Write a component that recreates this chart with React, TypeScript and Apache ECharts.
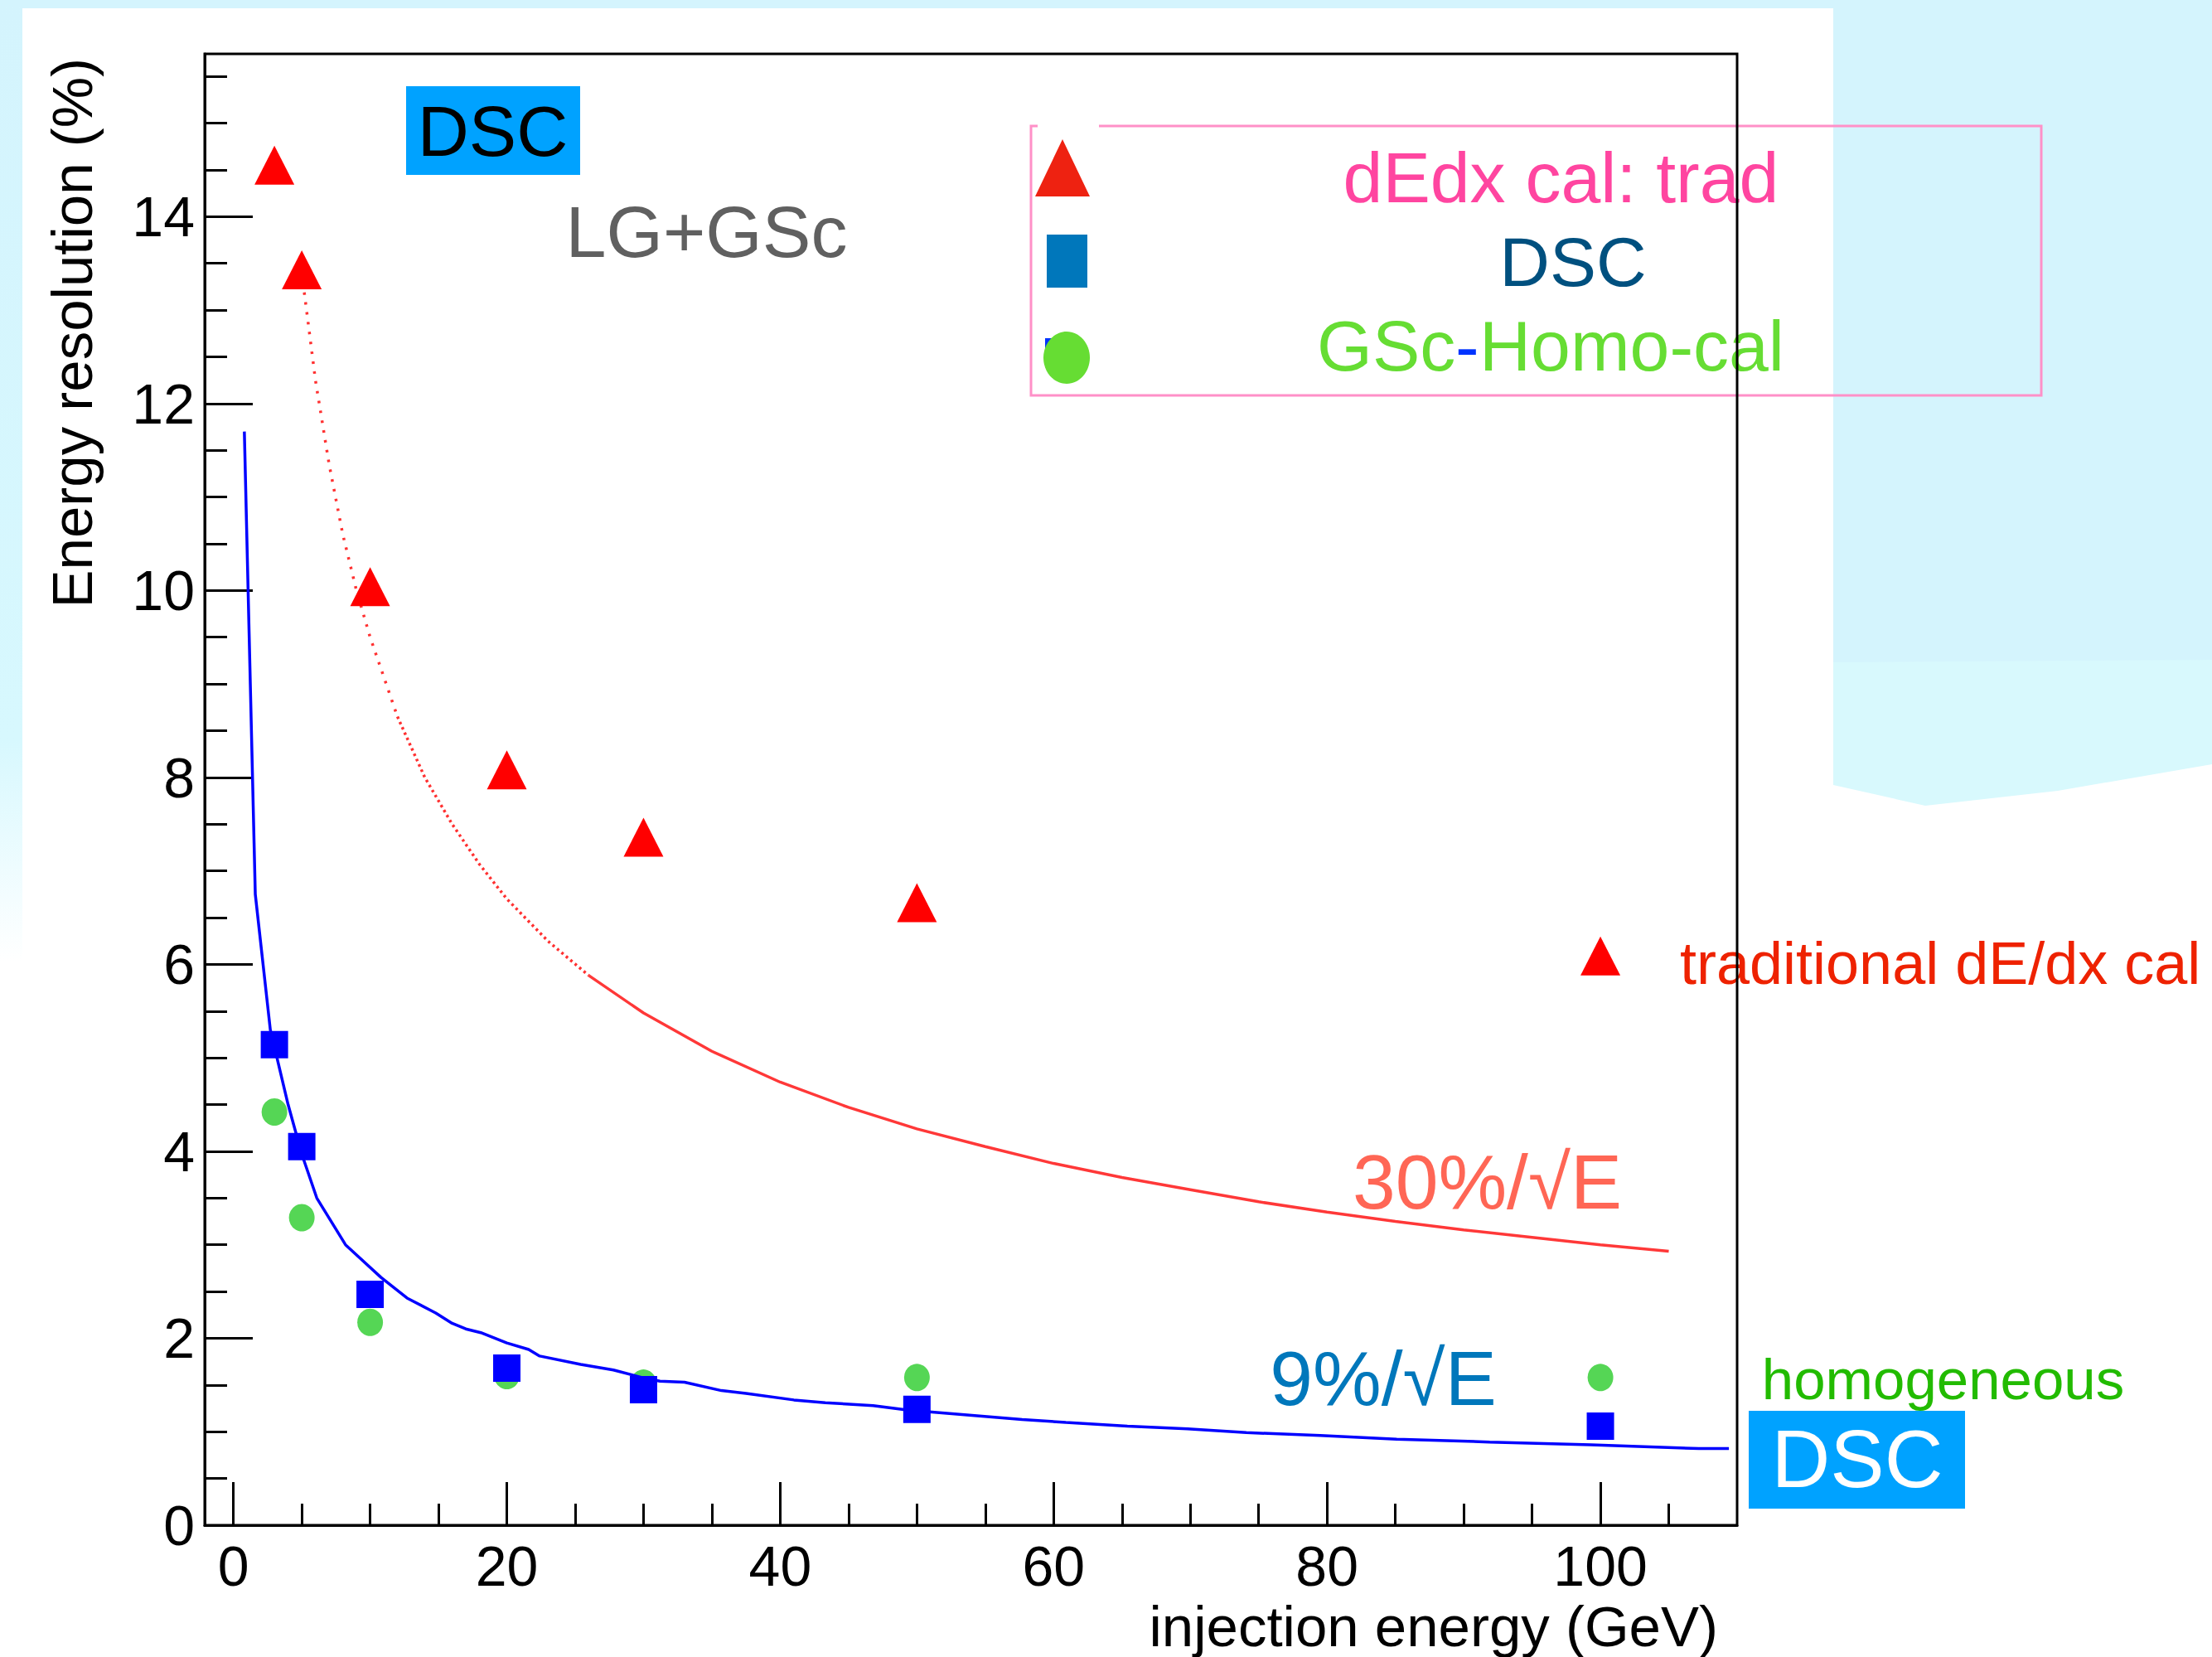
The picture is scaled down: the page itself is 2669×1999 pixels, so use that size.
import React, { useEffect, useRef } from "react";
import * as echarts from "echarts";

// ---------- data ----------
const triE = [3, 5, 10, 20, 30, 50, 100];
const triRes = [14.55, 13.43, 10.04, 8.08, 7.36, 6.66, 6.09];

const sqE = [3, 5, 10, 20, 30, 50, 100];
const sqRes = [5.14, 4.05, 2.47, 1.68, 1.45, 1.24, 1.06];

const cirE = [3, 5, 10, 20, 30, 50, 100];
const cirRes = [4.42, 3.29, 2.17, 1.6, 1.52, 1.58, 1.58];

// 9%/sqrt(E) curve (blue)
const fit9E = [0.8, 1.6, 2.7, 4.0, 5.0, 6.1, 8.2, 10.8, 12.7, 14.8, 16.0, 17.0, 18.1, 20.0, 21.6, 22.4, 25.4, 27.8, 29.9, 31.2, 33.0, 35.7, 37.5, 41.0, 43.3, 46.8, 49.4, 51.1, 54.4, 57.7, 60.9, 65.4, 69.8, 74.1, 79.5, 85.1, 91.9, 99.3, 107.2, 109.4];
const fit9Res = [11.7, 6.75, 5.3, 4.5, 3.97, 3.5, 3.0, 2.65, 2.43, 2.27, 2.16, 2.1, 2.06, 1.95, 1.88, 1.81, 1.72, 1.66, 1.58, 1.54, 1.53, 1.44, 1.41, 1.34, 1.31, 1.28, 1.23, 1.21, 1.17, 1.13, 1.1, 1.06, 1.03, 0.99, 0.96, 0.92, 0.89, 0.86, 0.82, 0.82];

// 30%/sqrt(E) curve (red)
const fit30E = [5, 6, 7, 8, 9, 10, 12, 14, 16, 18, 20, 23, 26, 30, 35, 40, 45, 50, 55, 60, 65, 70, 75, 80, 85, 90, 95, 100, 105];
const fit30Res = [13.4, 12.25, 11.35, 10.6, 10.0, 9.5, 8.65, 8.0, 7.5, 7.07, 6.7, 6.25, 5.88, 5.48, 5.07, 4.74, 4.47, 4.24, 4.05, 3.87, 3.72, 3.59, 3.46, 3.35, 3.25, 3.16, 3.08, 3.0, 2.93];

const xMajorTicks = [0, 20, 40, 60, 80, 100];
const xMinorTicks = [5, 10, 15, 25, 30, 35, 45, 50, 55, 65, 70, 75, 85, 90, 95, 105];
const yMajorTicks = [0, 2, 4, 6, 8, 10, 12, 14];
const yMinorTicks = [0.5, 1, 1.5, 2.5, 3, 3.5, 4.5, 5, 5.5, 6.5, 7, 7.5, 8.5, 9, 9.5, 10.5, 11, 11.5, 12.5, 13, 13.5, 14.5, 15, 15.5];

const X_MIN = -2.1;
const X_MAX = 110;
const Y_MIN = 0;
const Y_MAX = 15.74;

const FONT = "Liberation Sans";

function pairs(xs: number[], ys: number[]) {
  return xs.map((x, i) => [x, ys[i]]);
}

function txt(text: string, x: number, y: number, size: number, fill: string, align = "center", extra: any = {}) {
  return {
    type: "text",
    x,
    y,
    z: 1,
    silent: true,
    ...extra,
    style: {
      text,
      fill,
      fontSize: size,
      fontFamily: FONT,
      textAlign: align,
      textVerticalAlign: "middle",
      align,
      verticalAlign: "middle",
    },
  };
}

export default function App() {
  const ref = useRef<HTMLDivElement>(null);

  useEffect(() => {
    if (!ref.current) return;
    const chart = echarts.init(ref.current, null, { renderer: "svg" });

    const axisCommonX = {
      type: "value",
      min: X_MIN,
      max: X_MAX,
      position: "bottom",
      gridIndex: 0,
      splitLine: { show: false },
      minorTick: { show: false },
    };
    const axisCommonY = {
      type: "value",
      min: Y_MIN,
      max: Y_MAX,
      position: "left",
      gridIndex: 0,
      splitLine: { show: false },
      minorTick: { show: false },
    };

    const graphics: any[] = [
      // slide background pieces
      { type: "rect", z: 0, silent: true, shape: { x: 0, y: 0, width: 2669, height: 10 }, style: { fill: "#d4f4fd" } },
      {
        type: "rect", z: 0, silent: true,
        shape: { x: 0, y: 0, width: 27, height: 1160 },
        style: {
          fill: new echarts.graphic.LinearGradient(0, 0, 0, 1, [
            { offset: 0, color: "#d4f4fd" },
            { offset: 0.77, color: "#d7f8fe" },
            { offset: 1, color: "#ffffff" },
          ]),
        },
      },
      { type: "rect", z: 0, silent: true, shape: { x: 2212, y: 0, width: 457, height: 800 }, style: { fill: "#d4f4fd" } },
      {
        type: "polygon", z: 0, silent: true,
        shape: { points: [[2212, 799], [2669, 796], [2669, 922], [2483, 954], [2323, 972], [2212, 947]] },
        style: { fill: "#d8f9fd" },
      },

      // top-left labels
      { type: "rect", z: 1, silent: true, shape: { x: 490, y: 104, width: 210, height: 107 }, style: { fill: "#00a2ff" } },
      txt("DSC", 594.5, 158, 86, "#000000"),
      txt("LG+GSc", 852.5, 279, 88, "#606060"),

      // legend box
      {
        type: "polyline", z: 1, silent: true,
        shape: { points: [[1326, 152], [2463, 152], [2463, 477], [1244, 477], [1244, 152], [1252, 152]] },
        style: { stroke: "#ff90c8", lineWidth: 3, fill: null },
      },
      {
        type: "polygon", z: 1, silent: true,
        shape: { points: [[1249, 237], [1282, 168], [1315, 237]] },
        style: { fill: "#ee2211" },
      },
      { type: "rect", z: 1, silent: true, shape: { x: 1263, y: 283, width: 49, height: 64 }, style: { fill: "#0077bb" } },
      { type: "rect", z: 1, silent: true, shape: { x: 1261, y: 408, width: 9, height: 12 }, style: { fill: "#0033ff" } },
      { type: "ellipse", z: 1, silent: true, shape: { cx: 1287, cy: 431.5, rx: 28, ry: 31.5 }, style: { fill: "#66dd33" } },
      txt("dEdx cal: trad", 1883.5, 214, 86, "#ff45a0"),
      txt("DSC", 1898, 316, 84, "#00507f"),
      txt("GSc", 1589, 416.5, 86, "#66dd33", "left"),
      txt("-", 1756, 416.5, 86, "#0033ff", "left"),
      txt("Homo-cal", 1785, 416.5, 86, "#66dd33", "left"),

      // annotations
      txt("traditional dE/dx cal", 2027, 1162, 72, "#ee2200", "left"),
      txt("30%/\u221AE", 1794.5, 1426, 93, "#ff6655"),
      txt("9%/\u221AE", 1669, 1663, 93, "#0077bb"),
      txt("homogeneous", 2344.5, 1664, 69, "#22bb00"),
      { type: "rect", z: 1, silent: true, shape: { x: 2110, y: 1702, width: 261, height: 118 }, style: { fill: "#00a2ff" } },
      txt("DSC", 2241, 1760, 98, "#ffffff"),

      // axis titles
      txt("Energy resolution (%)", 87, 70, 69, "#000000", "right", { rotation: Math.PI / 2 }),
      txt("injection energy (GeV)", 2073, 1962, 69, "#000000", "right"),
    ];

    const option: any = {
      animation: false,
      backgroundColor: "#ffffff",
      textStyle: { fontFamily: FONT },
      grid: {
        show: true,
        left: 247,
        top: 65,
        width: 1849,
        height: 1775,
        borderColor: "#000000",
        borderWidth: 3,
        backgroundColor: "transparent",
        z: 10,
      },
      xAxis: [
        {
          ...axisCommonX,
          axisLine: { show: true, onZero: false, lineStyle: { color: "#000", width: 3 } },
          axisTick: { show: true, inside: true, length: 52, lineStyle: { color: "#000", width: 3 }, customValues: xMajorTicks },
          axisLabel: { show: true, customValues: xMajorTicks, fontSize: 68, color: "#000", margin: 15, fontFamily: FONT },
        },
        {
          ...axisCommonX,
          axisLine: { show: false, onZero: false },
          axisTick: { show: true, inside: true, length: 26, lineStyle: { color: "#000", width: 3 }, customValues: xMinorTicks },
          axisLabel: { show: false },
        },
      ],
      yAxis: [
        {
          ...axisCommonY,
          axisLine: { show: true, onZero: false, lineStyle: { color: "#000", width: 3 } },
          axisTick: { show: true, inside: true, length: 58, lineStyle: { color: "#000", width: 3 }, customValues: yMajorTicks },
          axisLabel: { show: true, customValues: yMajorTicks, fontSize: 68, color: "#000", margin: 12, fontFamily: FONT },
        },
        {
          ...axisCommonY,
          axisLine: { show: false, onZero: false },
          axisTick: { show: true, inside: true, length: 27, lineStyle: { color: "#000", width: 3 }, customValues: yMinorTicks },
          axisLabel: { show: false },
        },
      ],
      graphic: { elements: graphics },
      series: [
        {
          type: "line",
          name: "30%/sqrtE (steep)",
          data: pairs(fit30E, fit30Res).filter((p) => p[0] <= 12),
          showSymbol: false,
          symbol: "none",
          lineStyle: { color: "#ff3030", width: 3.5, type: [3, 9], cap: "butt", opacity: 1 },
          z: 2,
        },
        {
          type: "line",
          name: "30%/sqrtE (mid)",
          data: pairs(fit30E, fit30Res).filter((p) => p[0] >= 12 && p[0] <= 26),
          showSymbol: false,
          symbol: "none",
          lineStyle: { color: "#ff3030", width: 3.5, type: [3, 4], cap: "butt", opacity: 1 },
          z: 2,
        },
        {
          type: "line",
          name: "30%/sqrtE",
          data: pairs(fit30E, fit30Res).filter((p) => p[0] >= 26),
          showSymbol: false,
          symbol: "none",
          lineStyle: { color: "#ff3838", width: 3.5, opacity: 1 },
          z: 2,
        },
        {
          type: "scatter",
          name: "GSc-Homo-cal",
          data: pairs(cirE, cirRes),
          symbol: "circle",
          symbolSize: [31, 33],
          itemStyle: { color: "#55d655", opacity: 1 },
          z: 2,
        },
        {
          type: "line",
          name: "9%/sqrtE",
          data: pairs(fit9E, fit9Res),
          showSymbol: false,
          symbol: "none",
          lineStyle: { color: "#0000ff", width: 3.5, opacity: 1 },
          z: 3,
        },
        {
          type: "scatter",
          name: "DSC",
          data: pairs(sqE, sqRes),
          symbol: "rect",
          symbolSize: 33,
          itemStyle: { color: "#0000ff", opacity: 1 },
          z: 4,
        },
        {
          type: "scatter",
          name: "dEdx cal: trad",
          data: pairs(triE, triRes),
          symbol: "triangle",
          symbolSize: [48, 47],
          itemStyle: { color: "#ff0000", opacity: 1 },
          z: 4,
        },
      ],
    };

    chart.setOption(option);
    return () => {
      chart.dispose();
    };
  }, []);

  return (
    <div
      ref={ref}
      style={{ position: "fixed", left: 0, top: 0, width: 2669, height: 1999 }}
    />
  );
}
